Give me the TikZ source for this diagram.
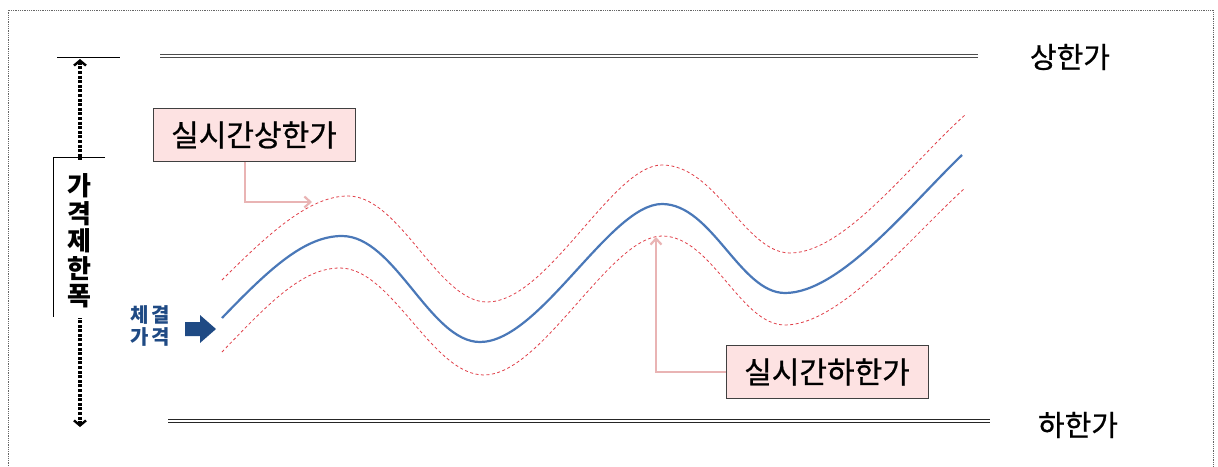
\documentclass[tikz,border=0pt]{standalone}
\usepackage{fontspec}
\newfontfamily\kr{Noto Sans CJK KR}
\newfontfamily\krh{Noto Sans CJK KR}[FakeBold=0.7]
\usetikzlibrary{arrows.meta}
\definecolor{boxpink}{HTML}{FDE2E2}
\definecolor{linkpink}{HTML}{E9B4B4}
\definecolor{curveblue}{HTML}{4A78B8}
\definecolor{dashred}{HTML}{E0404A}
\definecolor{navy}{HTML}{1F4A84}
\tikzset{
  labelbox/.style={draw=black!75, fill=boxpink, line width=0.8pt, minimum width=202pt, minimum height=53pt, inner sep=0pt, font=\krh\fontsize{30}{32}\selectfont},
  limitlabel/.style={font=\krh\fontsize{29}{31}\selectfont, inner sep=0pt},
  linkarrow/.style={draw=linkpink, line width=2.2pt, -{Straight Barb[length=6pt,width=11pt]}},
  bandcurve/.style={draw=dashred, line width=0.8pt, dash pattern=on 3pt off 2.5pt},
  maincurve/.style={draw=curveblue, line width=2.2pt},
  rangearrow/.style={line width=3.4pt, dash pattern=on 3pt off 1.6pt, {Straight Barb[length=5pt,width=12pt,line width=2.4pt]}-},
}
\begin{document}
\begin{tikzpicture}[x=1pt,y=-1pt]
\useasboundingbox (0,0) rectangle (1218,466);
% frame
\draw[black!60, densely dotted, line width=0.8pt] (8,466) -- (8,10) -- (1213,10) -- (1213,466);

% limit lines
\draw[black!70, double=white, double distance=2pt, line width=0.9pt] (160,56) -- (978,56);
\draw[black!85, double=white, double distance=2pt, line width=1.3pt] (168,421) -- (990,421);
\node[limitlabel] (upper) at (1070,57) {상한가};
\node[limitlabel] (lower) at (1078,425) {하한가};

% range indicator
\coordinate (rtop) at (80,59);
\coordinate (rbot) at (80,427);
\draw[line width=0.8pt] (57,57) -- (120,57);
\draw[line width=0.8pt] (105,157) -- (53,157) -- (53,317);
\node[font=\kr\bfseries\fontsize{26}{27.5}\selectfont, align=center, inner sep=0pt] (range) at (79,241) {가\\격\\제\\한\\폭};
\coordinate (rsegtop) at (80,160);
\coordinate (rsegbot) at (80,318);
\draw[rangearrow] (rtop) -- (rsegtop);
\draw[rangearrow] (rbot) -- (rsegbot);

% execution price label
\node[font=\kr\bfseries\fontsize{20}{22}\selectfont, text=navy, align=center, inner sep=0pt] (exec) at (150,326) {체\hspace{3pt}결\\가\hspace{3pt}격};
\fill[navy] (185,322) -- (200,322) -- (200,315) -- (216,329) -- (200,343) -- (200,336) -- (185,336) -- cycle;

% curves
\draw[maincurve] (222,318) .. controls (270,268) and (305,236) .. (342,236)
  .. controls (395,236) and (430,342) .. (480,342)
  .. controls (540,342) and (610,204) .. (662,204)
  .. controls (712,204) and (740,293) .. (785,293)
  .. controls (840,293) and (910,205) .. (962,155);
\draw[bandcurve] (222,280) .. controls (270,232) and (310,196) .. (348,196)
  .. controls (400,196) and (438,302) .. (487,302)
  .. controls (548,302) and (612,165) .. (662,165)
  .. controls (716,165) and (745,253) .. (790,253)
  .. controls (845,253) and (912,162) .. (965,115);
\draw[bandcurve] (222,352) .. controls (268,304) and (302,268) .. (340,268)
  .. controls (392,268) and (432,375) .. (484,375)
  .. controls (542,375) and (610,236) .. (662,236)
  .. controls (712,236) and (740,325) .. (785,325)
  .. controls (840,325) and (912,236) .. (965,188);

% real-time limit labels
\node[labelbox] (rtupper) at (254,135) {실시간상한가};
\node[labelbox] (rtlower) at (827,372) {실시간하한가};
\coordinate (uppertip) at (312,202);
\coordinate (lowertip) at (656,237);
\draw[linkarrow] (rtupper.south -| 245,0) |- (uppertip);
\draw[linkarrow] (rtlower.west) -| (lowertip);
\end{tikzpicture}
\end{document}
